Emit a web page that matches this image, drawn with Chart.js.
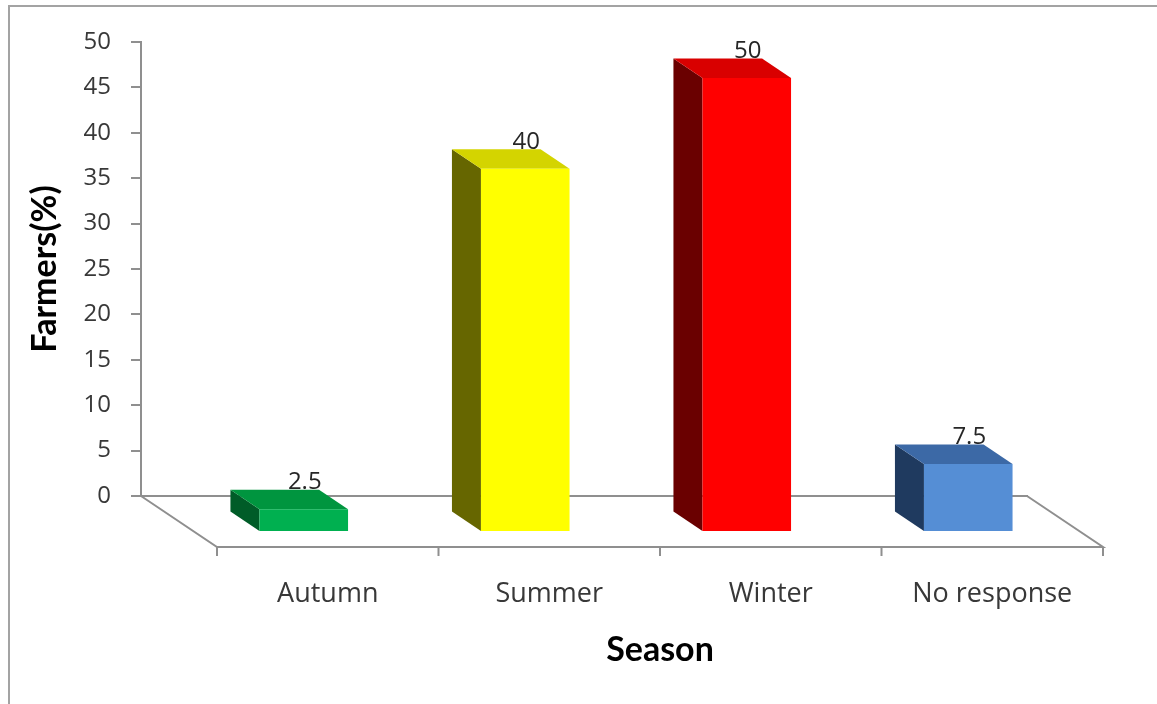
<!DOCTYPE html>
<html>
<head>
<meta charset="utf-8">
<script src="https://cdn.jsdelivr.net/npm/chart.js@4/dist/chart.umd.min.js"></script>
<style>
  html, body { margin: 0; padding: 0; background: #fff; overflow: hidden; }
  .frame {
    position: absolute; left: 8px; top: 5px; width: 1148px; height: 710px;
    border-top: 2px solid #a3a3a3; border-left: 2px solid #a3a3a3; border-right: 1px solid #e4e4e4;
  }
  #chart { position: absolute; left: 0; top: 0; }
</style>
</head>
<body>
<div class="frame"></div>
<canvas id="chart" width="1157" height="704"></canvas>
<script>
const seasons = ['Autumn', 'Summer', 'Winter', 'No response'];
const farmers = [2.5, 40, 50, 7.5];
const yTicks = [0, 5, 10, 15, 20, 25, 30, 35, 40, 45, 50];

// face colours for each box: front, left side, top
const frontColors = ['#00b050', '#ffff00', '#ff0000', '#558ed5'];
const sideColors = ['#005c28', '#666600', '#6a0000', '#1f3a5f'];
const topColors = ['#00953f', '#d4d400', '#d90000', '#3c69a6'];

const FLOOR_DX = 76, FLOOR_DY = 51;  // floor depth, back wall -> front edge
const FRONT_DX = 52, FRONT_DY = 36;  // where the box fronts sit on the floor
const BOX_DX = 29, BOX_DY = 19.5;    // box thickness

const textGrey = '#383838';

function fillPoly(ctx, pts) {
  ctx.beginPath();
  ctx.moveTo(pts[0][0], pts[0][1]);
  for (let i = 1; i < pts.length; i++) ctx.lineTo(pts[i][0], pts[i][1]);
  ctx.closePath();
  ctx.fill();
}

const boxes3d = {
  id: 'boxes3d',
  beforeDatasetsDraw(chart) {
    const { ctx, chartArea: a, scales: { x } } = chart;

    // floor outline and the little marks on its front edge
    ctx.save();
    ctx.strokeStyle = '#8f8f8f';
    ctx.lineWidth = 2;
    ctx.beginPath();
    ctx.moveTo(a.left, a.bottom);
    ctx.lineTo(a.left + FLOOR_DX, a.bottom + FLOOR_DY);
    ctx.lineTo(a.right + FLOOR_DX, a.bottom + FLOOR_DY);
    ctx.lineTo(a.right, a.bottom);
    for (let i = 0; i <= seasons.length; i++) {
      const px = x.getPixelForValue(i - 0.5) + FLOOR_DX;
      ctx.moveTo(px, a.bottom + FLOOR_DY);
      ctx.lineTo(px, a.bottom + FLOOR_DY + 9);
    }
    ctx.stroke();
    ctx.restore();

    // side and top faces, the fronts are left to Chart.js
    const meta = chart.getDatasetMeta(0);
    meta.data.forEach((bar, i) => {
      const { x: cx, y, base, width } = bar.getProps(['x', 'y', 'base', 'width'], true);
      const x0 = cx - width / 2 + FRONT_DX;
      const x1 = cx + width / 2 + FRONT_DX;
      const yt = y + FRONT_DY;
      const yb = base + FRONT_DY;
      ctx.fillStyle = sideColors[i];
      fillPoly(ctx, [[x0, yt], [x0, yb], [x0 - BOX_DX, yb - BOX_DY], [x0 - BOX_DX, yt - BOX_DY]]);
      ctx.fillStyle = topColors[i];
      fillPoly(ctx, [[x0, yt], [x1, yt], [x1 - BOX_DX, yt - BOX_DY], [x0 - BOX_DX, yt - BOX_DY]]);
    });

    ctx.save();
    ctx.translate(FRONT_DX, FRONT_DY);
  },
  afterDatasetsDraw(chart) {
    const { ctx, chartArea: a } = chart;
    ctx.restore();

    // value labels above each box
    const meta = chart.getDatasetMeta(0);
    ctx.save();
    ctx.font = '24px "Open Sans"';
    ctx.fillStyle = '#262626';
    ctx.textAlign = 'center';
    ctx.textBaseline = 'middle';
    meta.data.forEach((bar, i) => {
      ctx.fillText(String(farmers[i]), bar.x + FRONT_DX + 1, bar.y + FRONT_DY - 27);
    });

    // x axis title, centred under the front edge of the floor
    ctx.font = 'bold 34px Lato';
    ctx.fillStyle = '#000';
    ctx.fillText('Season', (a.left + a.right) / 2 + FLOOR_DX, 650);
    ctx.restore();
  }
};

new Chart(document.getElementById('chart'), {
  type: 'bar',
  data: {
    labels: seasons,
    datasets: [{
      data: farmers,
      backgroundColor: frontColors,
      borderWidth: 0,
      barPercentage: 0.4,
      categoryPercentage: 1.0,
      clip: false
    }]
  },
  options: {
    responsive: false,
    animation: false,
    devicePixelRatio: 1,
    layout: { padding: { top: 42, right: 130, bottom: 0, left: 8 } },
    plugins: {
      legend: { display: false },
      tooltip: { enabled: false }
    },
    scales: {
      x: {
        grid: { display: false },
        border: { display: true, color: '#8f8f8f', width: 2 },
        ticks: {
          font: { family: 'Open Sans', size: 27 },
          color: textGrey,
          padding: 74,
          labelOffset: FLOOR_DX,
          maxRotation: 0,
          autoSkip: false
        },
        afterFit(scale) { scale.height = 208; }
      },
      y: {
        min: 0,
        max: 50,
        afterBuildTicks(scale) { scale.ticks = yTicks.map(v => ({ value: v })); },
        grid: { drawOnChartArea: false, drawTicks: true, tickLength: 10, color: '#8f8f8f', lineWidth: 2 },
        border: { display: true, color: '#8f8f8f', width: 2 },
        ticks: { font: { family: 'Open Sans', size: 24 }, color: textGrey, padding: 20 },
        title: {
          display: true,
          text: 'Farmers(%)',
          font: { family: 'Lato', size: 34, weight: 'bold' },
          color: '#000',
          padding: { top: 17, bottom: 0 }
        },
        afterFit(scale) { scale.width = 133; }
      }
    }
  },
  plugins: [boxes3d]
});
</script>
</body>
</html>
